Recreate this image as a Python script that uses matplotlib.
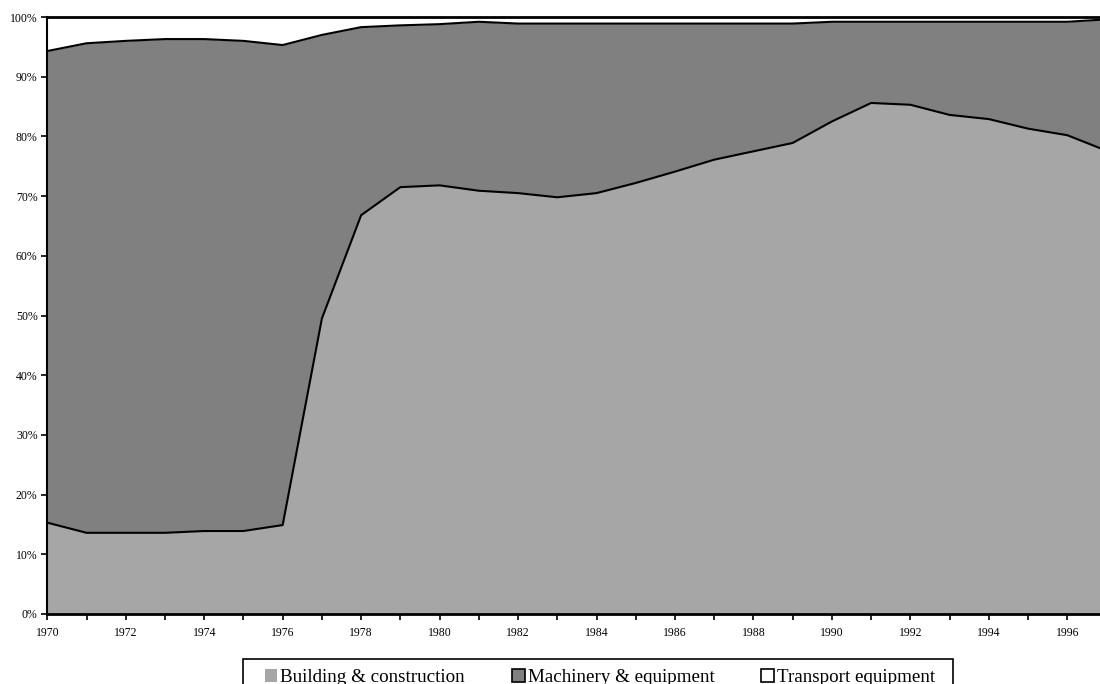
import matplotlib
matplotlib.use("Agg")
import matplotlib.pyplot as plt
from matplotlib.patches import Patch, Rectangle
from matplotlib.ticker import MultipleLocator, FuncFormatter
import numpy as np

plt.rcParams['font.family'] = ['Liberation Serif', 'DejaVu Serif']

years = np.arange(1970, 1998)
# shares in percent
building = [15.3, 13.6, 13.6, 13.6, 13.9, 13.9, 14.9, 49.5, 66.8, 71.5,
            71.8, 70.9, 70.5, 69.8, 70.5, 72.2, 74.1, 76.1, 77.5, 78.9,
            82.5, 85.6, 85.3, 83.6, 82.9, 81.3, 80.2, 77.6]
machinery = [79.0, 82.0, 82.4, 82.7, 82.4, 82.1, 80.4, 47.5, 31.5, 27.1,
             27.0, 28.3, 28.4, 29.1, 28.4, 26.7, 24.8, 22.8, 21.4, 20.0,
             16.7, 13.6, 13.9, 15.6, 16.3, 17.9, 19.0, 22.0]
labels = ['Building & construction', 'Machinery & equipment', 'Transport equipment']
colors = ['#a6a6a6', '#808080', '#ffffff']

b = np.array(building)
bm = b + np.array(machinery)
total = np.full(len(years), 100.0)

fig = plt.figure(figsize=(11, 6.84), dpi=100)
ax = fig.add_axes([47.3 / 1100, 70 / 684, (1106.5 - 47.3) / 1100, 597 / 684])

ax.fill_between(years, 0, b, color=colors[0], lw=0)
ax.fill_between(years, b, bm, color=colors[1], lw=0)
ax.fill_between(years, bm, total, color=colors[2], lw=0)
ax.plot(years, b, color='black', lw=1.5)
ax.plot(years, bm, color='black', lw=1.5)
ax.plot(years, total, color='black', lw=2, clip_on=False)

ax.set_xlim(1970, 1997)
ax.set_ylim(0, 100)
ax.xaxis.set_major_locator(MultipleLocator(2))
ax.xaxis.set_minor_locator(MultipleLocator(1))
ax.yaxis.set_major_locator(MultipleLocator(10))
ax.yaxis.set_major_formatter(FuncFormatter(lambda v, p: f'{v:.0f}%'))
ax.tick_params(axis='both', which='both', direction='out', labelsize=8.5,
               width=1.2, length=4, color='black')
ax.tick_params(axis='x', pad=5)
ax.tick_params(axis='y', pad=3)
for s in ['top', 'right']:
    ax.spines[s].set_visible(False)
ax.spines['left'].set_linewidth(1.5)
ax.spines['bottom'].set_linewidth(2)

handles = [Patch(facecolor=colors[0], edgecolor='none'),
           Patch(facecolor=colors[1], edgecolor='black', lw=1.2),
           Patch(facecolor=colors[2], edgecolor='black', lw=1.2)]
leg = fig.legend(handles, labels, loc='upper center', ncol=3,
                 bbox_to_anchor=(600 / 1100, 1 - 669 / 684), fontsize=13.7,
                 frameon=False, handlelength=0.66, handleheight=0.66,
                 handletextpad=0.16, columnspacing=2.47, borderpad=0,
                 borderaxespad=0)

# legend box, wider than the entries as in the original
fig.add_artist(Rectangle((243 / 1100, -10 / 684), 710 / 1100, 35 / 684,
                         transform=fig.transFigure, facecolor='none',
                         edgecolor='black', lw=1.2))

fig.savefig('out.png', dpi=100)
